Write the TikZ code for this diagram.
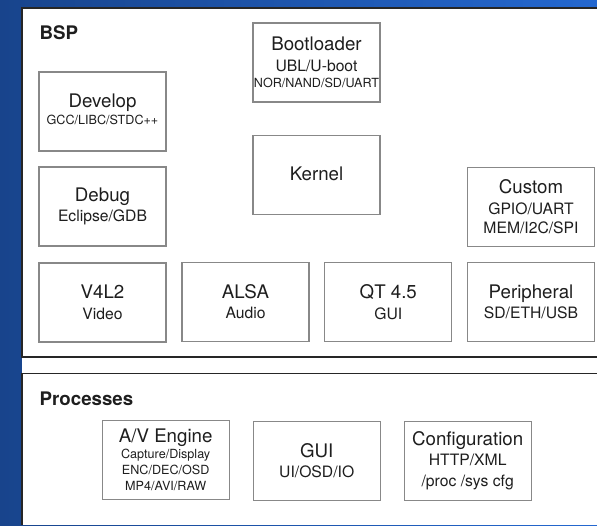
\documentclass[tikz,border=0pt]{standalone}
\usepackage{fontspec}
\setmainfont{TeX Gyre Heros}
\usepackage{tikz}
\definecolor{bgdark}{RGB}{24,68,140}
\definecolor{bglight}{RGB}{36,104,208}
\definecolor{boxline}{RGB}{136,136,136}
\definecolor{ink}{RGB}{30,30,30}
\newcommand\ttlf{\fontsize{18.7}{20.5}\selectfont}
\newcommand\subf{\fontsize{15.7}{20.5}\selectfont}
\newcommand\smlf{\fontsize{12.6}{20.5}\selectfont}
\newcommand\tnyf{\fontsize{12.6}{20.5}\selectfont}
\tikzset{
every picture/.style={x=1pt, y=-1pt},
%%%%%%%%%%  Node styles
unit/.style={draw=boxline, line width=1.3pt, fill=white, text=ink,
             minimum width=127pt, minimum height=79pt, inner sep=0pt,
             align=center, font=\ttlf},
paneltitle/.style={anchor=base west, inner sep=0pt, text=ink,
                   font=\fontsize{18.7}{22}\selectfont\bfseries},
%%%% panel frames
frame/.style={line width=1.8pt, draw=black!85},
}
\begin{document}
\begin{tikzpicture}
\useasboundingbox (0,0) rectangle (597,525);
\shade[left color=bgdark, right color=bglight] (0,0) rectangle (597,525);
\fill[white] (22,8) rectangle (597,525);
\draw[frame] (597,8) -- (22,8) -- (22,357) -- (597,357);
\draw[frame] (597,373.5) -- (22,373.5) -- (22,525);
\node[paneltitle] (bsp) at (39.5,39.5) {BSP};
\node[paneltitle] (proc) at (39.5,405) {Processes};
%%%%%%% BSP units
\node[unit, text depth=5.6pt] (develop) at (102.5,111.5) {Develop\\[-3.5pt]\tnyf GCC/LIBC/STDC++};
\node[unit] (boot) at (316.5,62.5) {Bootloader\\\subf UBL/U-boot\\[-4.2pt]\smlf NOR/NAND/SD/UART};
\node[unit, text depth=3.4pt] (kernel) at (316.5,175) {Kernel};
\node[unit] (debug) at (102.5,206.5) {Debug\\\subf Eclipse/GDB};
\node[unit] (custom) at (531,207) {Custom\\\subf GPIO/UART\\[-0.7pt]\subf MEM/I2C/SPI};
\node[unit] (v4l2) at (102.5,302.5) {V4L2\\\subf Video};
\node[unit] (alsa) at (245.5,301.8) {ALSA\\\subf Audio};
\node[unit] (qt) at (388.3,302.3) {QT 4.5\\\subf GUI};
\node[unit] (periph) at (531,302) {Peripheral\\\subf SD/ETH/USB};
%%%%%%% Processes units
\node[unit] (avengine) at (165.7,460) {A/V Engine\\[-4.5pt]\smlf Capture/Display\\[-4.5pt]\smlf ENC/DEC/OSD\\[-4.5pt]\smlf MP4/AVI/RAW};
\node[unit] (gui) at (316.7,460.8) {GUI\\\subf UI/OSD/IO};
\node[unit] (config) at (467.7,460.7) {Configuration\\\subf HTTP/XML\\\subf /proc /sys cfg};
\end{tikzpicture}
\end{document}
